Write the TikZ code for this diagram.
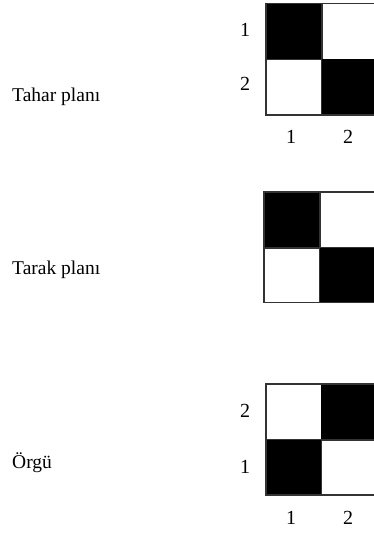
\documentclass[tikz,border=0pt]{standalone}
\usepackage{fontspec}
\setmainfont{Liberation Serif}
\begin{document}
\begin{tikzpicture}[x=1pt,y=-1pt,
  lbl/.style={anchor=west,font=\fontsize{19.5}{22}\selectfont,inner sep=0pt},
  num/.style={font=\fontsize{20}{22}\selectfont,inner sep=0pt},
  cellb/.style={fill=black,draw=black,line width=1pt},
  cellw/.style={fill=white,draw=black!80,line width=1.2pt}]
\useasboundingbox (0,0) rectangle (374,533);
\clip (0,0) rectangle (374,533);
% Grid 1: Tahar plani
\draw[cellb] (266,3.5) rectangle (322,59.5);
\draw[cellw] (322,3.5) rectangle (378,59.5);
\draw[cellw] (266,59.5) rectangle (322,115);
\draw[cellb] (322,59.5) rectangle (378,115);
\draw[draw=black!80,line width=1.2pt] (266,3.5) rectangle (378,115);
\node[num] (r11) at (245,30) {1};
\node[num] (r12) at (245,84) {2};
\node[num] (c11) at (291,137) {1};
\node[num] (c12) at (348,137) {2};
% Grid 2: Tarak plani
\draw[cellb] (264,192) rectangle (320,248);
\draw[cellw] (320,192) rectangle (376,248);
\draw[cellw] (264,248) rectangle (320,302.5);
\draw[cellb] (320,248) rectangle (376,302.5);
\draw[draw=black!80,line width=1.2pt] (264,192) rectangle (376,302.5);
% Grid 3: Orgu
\draw[cellw] (266,384) rectangle (321.5,440);
\draw[cellb] (321.5,384) rectangle (377,440);
\draw[cellb] (266,440) rectangle (321.5,495);
\draw[cellw] (321.5,440) rectangle (377,495);
\draw[draw=black!80,line width=1.2pt] (266,384) rectangle (377,495);
\node[num] (r32) at (245,411) {2};
\node[num] (r31) at (245,467) {1};
\node[num] (c31) at (291,518) {1};
\node[num] (c32) at (348,518) {2};
% Labels
\node[lbl] (t1) at (12,97) {Tahar planı};
\node[lbl] (t2) at (12,270) {Tarak planı};
\node[lbl] (t3) at (12,463) {Örgü};
\end{tikzpicture}
\end{document}
